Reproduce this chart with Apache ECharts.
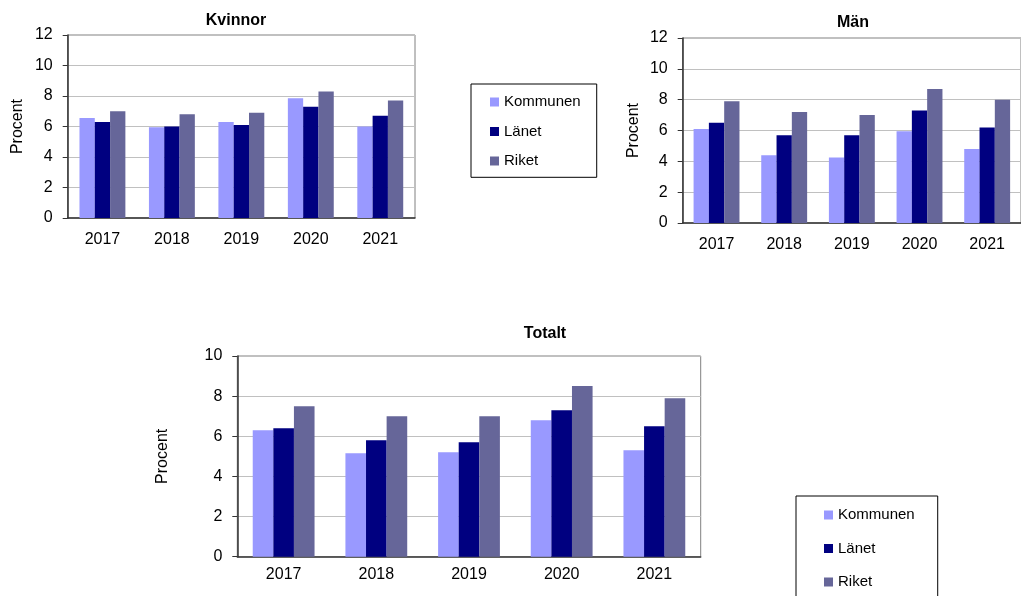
<!DOCTYPE html>
<html>
<head>
<meta charset="utf-8">
<script src="https://cdn.jsdelivr.net/npm/echarts@6/dist/echarts.min.js"></script>
<style>
  html, body { margin: 0; padding: 0; background: #ffffff; }
  #chart { width: 1021px; height: 596px; }
</style>
</head>
<body>
<div id="chart"></div>
<script>
const years = ['2017', '2018', '2019', '2020', '2021'];
const seriesNames = ['Kommunen', 'Länet', 'Riket'];
const panelTitles = ['Kvinnor', 'Män', 'Totalt'];
const axisTitle = 'Procent';

const kvinnorKommunen = [6.55, 5.95, 6.3, 7.85, 6.0];
const kvinnorLanet    = [6.3, 6.0, 6.1, 7.3, 6.7];
const kvinnorRiket    = [7.0, 6.8, 6.9, 8.3, 7.7];

const manKommunen = [6.1, 4.4, 4.25, 5.95, 4.8];
const manLanet    = [6.5, 5.7, 5.7, 7.3, 6.2];
const manRiket    = [7.9, 7.2, 7.0, 8.7, 8.0];

const totaltKommunen = [6.3, 5.15, 5.2, 6.8, 5.3];
const totaltLanet    = [6.4, 5.8, 5.7, 7.3, 6.5];
const totaltRiket    = [7.5, 7.0, 7.0, 8.5, 7.9];

const yMax = [12, 12, 10];
const yInterval = 2;

const panelData = [
  [kvinnorKommunen, kvinnorLanet, kvinnorRiket],
  [manKommunen, manLanet, manRiket],
  [totaltKommunen, totaltLanet, totaltRiket]
];

const colors = ['#9999FF', '#000080', '#666699'];
const FONT = '"Liberation Sans", Arial, Helvetica, sans-serif';

const grids = [
  { left: 67.7, top: 35, width: 347.3, height: 183 },
  { left: 682.7, top: 38, width: 348.5, height: 185 },
  { left: 237.3, top: 356, width: 463.4, height: 200.7 }
];
const barWidths = [15.3, 15.3, 20.6];
const xLabelMargins = [14, 14, 10];
const nameGaps = [41.7, 40.7, 66.3];
const titlePos = [
  { x: 236, y: 13 },
  { x: 853, y: 15 },
  { x: 545, y: 326 }
];

const chart = echarts.init(document.getElementById('chart'), null, { renderer: 'canvas' });

const option = {
  backgroundColor: '#ffffff',
  animation: false,
  color: colors,
  title: panelTitles.map((t, i) => ({
    text: t,
    left: titlePos[i].x,
    top: titlePos[i].y,
    textAlign: 'center',
    padding: 0,
    textStyle: { fontFamily: FONT, fontSize: 16, fontWeight: 'bold', color: '#000' }
  })),
  legend: [
    {
      data: seriesNames,
      orient: 'vertical',
      left: 471, top: 84,
      padding: [10.5, 16, 8.8, 19],
      itemGap: 14.5,
      itemWidth: 9, itemHeight: 9,
      icon: 'rect',
      borderColor: '#000', borderWidth: 1,
      textStyle: { fontFamily: FONT, fontSize: 15, color: '#000' }
    },
    {
      data: seriesNames,
      orient: 'vertical',
      left: 796, top: 496,
      height: 130,
      padding: [11.5, 23, 25, 28],
      itemGap: 18.5,
      itemWidth: 9, itemHeight: 9,
      icon: 'rect',
      borderColor: '#000', borderWidth: 1,
      textStyle: { fontFamily: FONT, fontSize: 15, color: '#000' }
    }
  ],
  grid: grids.map(g => Object.assign({
    show: true, borderColor: '#808080', borderWidth: 1, backgroundColor: 'transparent', containLabel: false
  }, g)),
  xAxis: grids.map((g, i) => ({
    type: 'category',
    gridIndex: i,
    data: years,
    axisLine: { show: true, lineStyle: { color: '#333', width: 1.5 } },
    axisTick: { show: false },
    axisLabel: { margin: xLabelMargins[i], fontFamily: FONT, fontSize: 16, color: '#000' },
    splitLine: { show: false }
  })),
  yAxis: grids.map((g, i) => ({
    type: 'value',
    gridIndex: i,
    min: 0, max: yMax[i], interval: yInterval,
    name: axisTitle,
    nameLocation: 'middle',
    nameRotate: 90,
    nameGap: nameGaps[i],
    nameTextStyle: { fontFamily: FONT, fontSize: 16, color: '#000' },
    axisLine: { show: true, lineStyle: { color: '#333', width: 1.5 } },
    axisTick: { show: true, length: 5, lineStyle: { color: '#333' } },
    axisLabel: { margin: 15, fontFamily: FONT, fontSize: 16, color: '#000' },
    splitLine: { show: true, lineStyle: { color: '#c0c0c0', width: 1.2 } }
  })),
  series: []
};

panelData.forEach((arrs, p) => {
  arrs.forEach((vals, s) => {
    option.series.push({
      type: 'bar',
      name: seriesNames[s],
      xAxisIndex: p,
      yAxisIndex: p,
      data: vals,
      barWidth: barWidths[p],
      barGap: '0%',
      itemStyle: { color: colors[s] }
    });
  });
});

chart.setOption(option);
</script>
</body>
</html>
